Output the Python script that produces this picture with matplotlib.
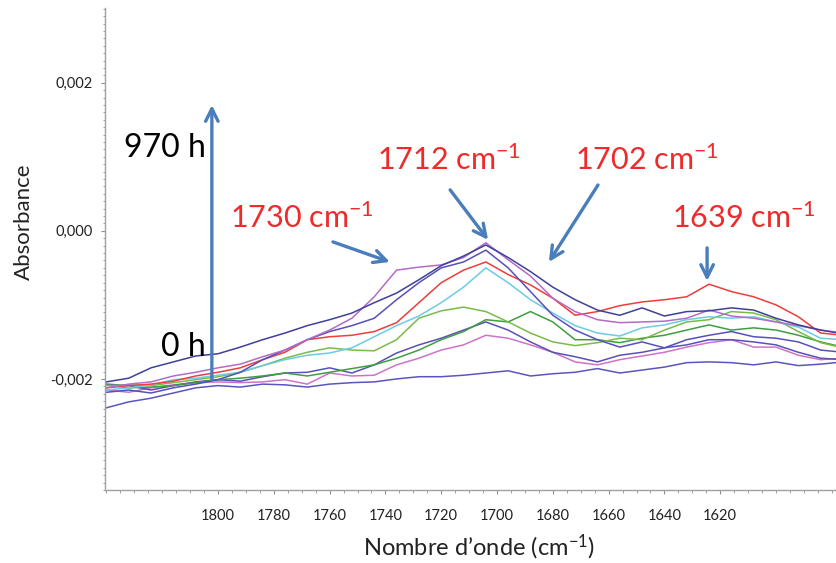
import numpy as np
import matplotlib
matplotlib.use("Agg")
import matplotlib.pyplot as plt
from matplotlib.ticker import MultipleLocator, FixedLocator, FuncFormatter

plt.rcParams['font.family'] = ['Lato', 'DejaVu Sans']
plt.rcParams['mathtext.fontset'] = 'custom'
plt.rcParams['mathtext.rm'] = 'Lato'
plt.rcParams['mathtext.default'] = 'regular'

# wavenumbers (cm-1), every 8 cm-1
wavenumber = list(range(1840, 1575, -8))

# absorbance spectra, in units of 1e-3
dark_blue = [-2.04, -1.99, -1.85, -1.77, -1.69, -1.66, -1.57, -1.47, -1.38, -1.28, -1.20, -1.11,
             -0.97, -0.84, -0.66, -0.47, -0.34, -0.19, -0.36, -0.55, -0.76, -0.93, -1.07, -1.14,
             -1.04, -1.15, -1.09, -1.08, -1.04, -1.07, -1.18, -1.27, -1.34, -1.39]
violet = [-2.12, -2.07, -2.04, -1.96, -1.91, -1.85, -1.80, -1.70, -1.61, -1.47, -1.34, -1.18,
          -0.89, -0.53, -0.49, -0.46, -0.36, -0.16, -0.39, -0.61, -0.91, -1.09, -1.20, -1.24,
          -1.23, -1.22, -1.18, -1.07, -1.15, -1.18, -1.23, -1.28, -1.34, -1.38]
blue_mid = [-2.18, -2.15, -2.19, -2.12, -2.07, -2.01, -1.91, -1.74, -1.61, -1.47, -1.36, -1.28,
            -1.18, -0.93, -0.70, -0.50, -0.42, -0.26, -0.50, -0.82, -1.14, -1.34, -1.47, -1.57,
            -1.50, -1.58, -1.47, -1.41, -1.36, -1.43, -1.45, -1.50, -1.61, -1.64]
red = [-2.12, -2.09, -2.07, -2.03, -1.96, -1.91, -1.85, -1.74, -1.64, -1.47, -1.43, -1.41,
       -1.36, -1.24, -0.97, -0.70, -0.53, -0.42, -0.59, -0.73, -0.91, -1.14, -1.09, -1.01,
       -0.96, -0.93, -0.89, -0.72, -0.82, -0.89, -1.00, -1.16, -1.38, -1.41]
cyan = [-2.15, -2.12, -2.08, -2.01, -1.99, -1.95, -1.91, -1.82, -1.74, -1.68, -1.65, -1.58,
        -1.43, -1.28, -1.15, -0.97, -0.76, -0.50, -0.70, -0.93, -1.11, -1.28, -1.38, -1.42,
        -1.31, -1.27, -1.20, -1.16, -1.18, -1.16, -1.23, -1.30, -1.45, -1.47]
light_green = [-2.09, -2.08, -2.09, -2.05, -2.01, -1.97, -1.91, -1.82, -1.72, -1.64, -1.58, -1.61,
               -1.62, -1.47, -1.18, -1.08, -1.03, -1.09, -1.23, -1.38, -1.50, -1.55, -1.51, -1.45,
               -1.47, -1.34, -1.23, -1.20, -1.09, -1.11, -1.20, -1.36, -1.51, -1.58]
dark_green = [-2.08, -2.12, -2.11, -2.09, -2.05, -2.01, -1.99, -1.96, -1.92, -1.96, -1.91, -1.86,
              -1.81, -1.72, -1.61, -1.47, -1.36, -1.20, -1.23, -1.09, -1.23, -1.47, -1.47, -1.51,
              -1.45, -1.41, -1.34, -1.27, -1.34, -1.31, -1.34, -1.41, -1.50, -1.57]
blue_low = [-2.07, -2.09, -2.15, -2.09, -2.04, -2.01, -2.03, -1.97, -1.92, -1.91, -1.85, -1.92,
            -1.81, -1.65, -1.54, -1.45, -1.34, -1.23, -1.34, -1.50, -1.64, -1.70, -1.77, -1.68,
            -1.64, -1.58, -1.54, -1.47, -1.47, -1.50, -1.54, -1.64, -1.72, -1.74]
pink = [-2.15, -2.18, -2.12, -2.08, -2.05, -2.04, -2.05, -2.04, -2.01, -2.07, -1.92, -1.96,
        -1.95, -1.81, -1.72, -1.61, -1.54, -1.41, -1.45, -1.54, -1.64, -1.77, -1.81, -1.74,
        -1.69, -1.64, -1.57, -1.51, -1.47, -1.57, -1.57, -1.68, -1.74, -1.72]
blue_bottom = [-2.39, -2.31, -2.26, -2.19, -2.12, -2.09, -2.11, -2.07, -2.08, -2.11, -2.07, -2.05,
               -2.04, -2.00, -1.97, -1.97, -1.95, -1.92, -1.89, -1.96, -1.93, -1.91, -1.86, -1.92,
               -1.88, -1.84, -1.78, -1.77, -1.78, -1.81, -1.77, -1.82, -1.80, -1.77]

spectra = [
    (blue_bottom, "#5b55c0"),
    (pink, "#cf72c8"),
    (blue_low, "#5a50b8"),
    (dark_green, "#3f9e3f"),
    (light_green, "#78bc48"),
    (cyan, "#6ccbe6"),
    (red, "#f03c3c"),
    (blue_mid, "#5650bc"),
    (violet, "#b26cc6"),
    (dark_blue, "#3f3f9c"),
]

peaks = ["1730", "1712", "1702", "1639"]

fig = plt.figure(figsize=(8.36, 5.63), dpi=100)
ax = fig.add_axes([0.1256, 0.1297, 0.8744, 0.856])

wn = np.array(wavenumber)
for vals, col in spectra:
    ax.plot(wn, np.array(vals) * 1e-3, color=col, lw=1.1)

ax.set_xlim(1840.5, 1578.5)
ax.set_ylim(-0.0035, 0.00301)

for s in ["top", "right"]:
    ax.spines[s].set_visible(False)
for s in ["left", "bottom"]:
    ax.spines[s].set_color("#a0a0a0")
    ax.spines[s].set_linewidth(1.0)

ax.xaxis.set_major_locator(FixedLocator(list(range(1620, 1801, 20))))
ax.xaxis.set_minor_locator(MultipleLocator(5))
ax.yaxis.set_major_locator(FixedLocator([-0.002, 0.0, 0.002]))
ax.yaxis.set_minor_locator(MultipleLocator(0.0001))
ax.yaxis.set_major_formatter(FuncFormatter(lambda v, p: f"{v:.3f}".replace(".", ",").replace("-0,000", "0,000")))
ax.tick_params(axis="both", which="both", color="#909090", labelcolor="#222222", labelsize=10.5)
ax.tick_params(axis="x", which="major", length=3, pad=11)
ax.tick_params(axis="x", which="minor", length=2)
ax.tick_params(axis="y", which="major", length=3, pad=6)
ax.tick_params(axis="y", which="minor", length=1.5)

ax.set_xlabel("Nombre d\u2019onde (cm$^{-1}$)", fontsize=17, color="#222222")
ax.xaxis.set_label_coords(0.512, -0.089)
ax.set_ylabel("Absorbance", fontsize=16, color="#222222")
ax.yaxis.set_label_coords(-0.097, 0.556)

arrow_col = "#4a7ebb"
head = dict(arrowstyle="->,head_length=0.9,head_width=0.45", color=arrow_col, lw=2.4,
            shrinkA=0, shrinkB=0)

# time arrow 0 h -> 970 h
ax.annotate("", xy=(1802.2, 0.00170), xytext=(1802.2, -0.00201), arrowprops=head)
ax.text(1804.5, 0.00112, "970 h", fontsize=23, ha="right", va="center", color="black")
ax.text(1804.5, -0.00157, "0 h", fontsize=23, ha="right", va="center", color="black")

# band labels and arrows
label_pos = [(1795.7, 0.000176), (1743.0, 0.00096), (1672.0, 0.00096), (1637.3, 0.000176)]
arrows = [((1758.8, -0.000149), (1738.4, -0.00042)),
          ((1716.8, 0.000554), (1703.2, -0.000122)),
          ((1663.8, 0.00062), (1681.4, -0.00042)),
          ((1624.7, -0.00023), (1624.7, -0.000676))]
for name, (tx, ty), (tail, tip) in zip(peaks, label_pos, arrows):
    ax.text(tx, ty, name + " cm$^{-1}$", fontsize=22, color="#ee2a2a", ha="left", va="center")
    ax.annotate("", xy=tip, xytext=tail, arrowprops=head)

fig.savefig("out.png", dpi=100)
